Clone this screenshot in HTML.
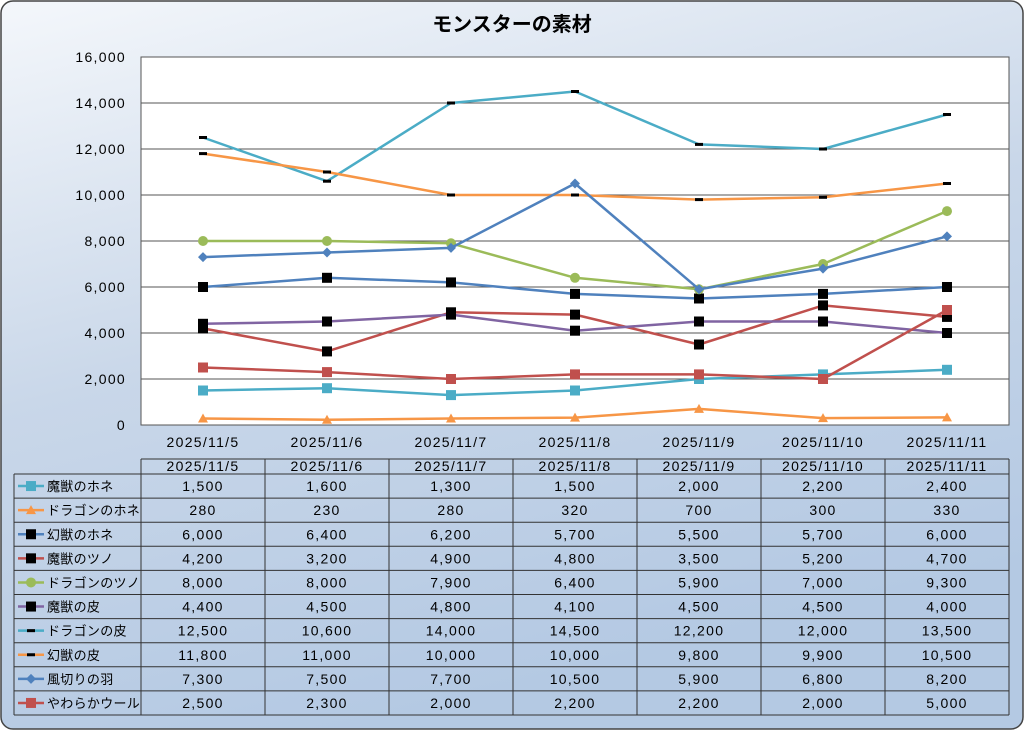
<!DOCTYPE html>
<html><head><meta charset="utf-8">
<style>
html,body{margin:0;padding:0;width:1024px;height:730px;overflow:hidden;background:#fff}
svg{display:block}
text{font-family:"Liberation Sans","Noto Sans CJK JP",sans-serif;fill:#000}
.n{font-size:14px;letter-spacing:1.3px}
</style></head><body>
<svg id="s" width="1024" height="730" xmlns="http://www.w3.org/2000/svg">
<defs>
<linearGradient id="bg" x1="0" y1="0" x2="0.35" y2="1">
<stop offset="0" stop-color="#f4f7fb"/>
<stop offset="0.5" stop-color="#c9d7e9"/>
<stop offset="1" stop-color="#b4c9e3"/>
</linearGradient>
</defs>
<rect x="1" y="1" width="1022" height="728" rx="12" fill="url(#bg)" stroke="#444" stroke-width="1.5"/>
<text x="512" y="31" text-anchor="middle" font-size="20" font-weight="bold">モンスターの素材</text>
<rect x="141" y="57" width="868" height="368" fill="#fff" stroke="#555"/>
<g id="g"></g>
</svg>
<script>
(function(){
const g=document.getElementById('g');
const NS='http://www.w3.org/2000/svg';
function el(t,a,txt){const e=document.createElementNS(NS,t);for(const k in a)e.setAttribute(k,a[k]);if(txt!==undefined)e.textContent=txt;g.appendChild(e);return e;}
function fmt(v){return String(v).replace(/\B(?=(\d{3})+(?!\d))/g,',');}
const Y=v=>425-v*0.023;
const X=i=>203+i*124;
for(let v=0;v<=16000;v+=2000){
 if(v>0&&v<16000) el('line',{x1:141,x2:1009,y1:Y(v),y2:Y(v),stroke:'#555','stroke-width':1});
 el('text',{x:126,y:Y(v)+5,'text-anchor':'end','class':'n'},fmt(v));
}
const dates=['2025/11/5','2025/11/6','2025/11/7','2025/11/8','2025/11/9','2025/11/10','2025/11/11'];
dates.forEach((d,i)=>el('text',{x:X(i),y:447,'text-anchor':'middle','class':'n'},d));
const S=[
['魔獣のホネ','#4bacc6','sq',[1500,1600,1300,1500,2000,2200,2400]],
['ドラゴンのホネ','#f79646','tri',[280,230,280,320,700,300,330]],
['幻獣のホネ','#4f81bd','bsq',[6000,6400,6200,5700,5500,5700,6000]],
['魔獣のツノ','#c0504d','bsq',[4200,3200,4900,4800,3500,5200,4700]],
['ドラゴンのツノ','#9bbb59','cir',[8000,8000,7900,6400,5900,7000,9300]],
['魔獣の皮','#8064a2','bsq',[4400,4500,4800,4100,4500,4500,4000]],
['ドラゴンの皮','#4bacc6','dash',[12500,10600,14000,14500,12200,12000,13500]],
['幻獣の皮','#f79646','dash',[11800,11000,10000,10000,9800,9900,10500]],
['風切りの羽','#4f81bd','dia',[7300,7500,7700,10500,5900,6800,8200]],
['やわらかウール','#c0504d','sq',[2500,2300,2000,2200,2200,2000,5000]]];
function marker(m,c,x,y){
 if(m==='sq') el('rect',{x:x-5,y:y-5,width:10,height:10,fill:c});
 else if(m==='bsq') el('rect',{x:x-5,y:y-5,width:10,height:10,fill:'#000'});
 else if(m==='tri') el('polygon',{points:`${x},${y-5} ${x+5},${y+4} ${x-5},${y+4}`,fill:c});
 else if(m==='cir') el('circle',{cx:x,cy:y,r:5,fill:c});
 else if(m==='dash') el('rect',{x:x-4,y:y-1.5,width:8,height:3,fill:'#000'});
 else if(m==='dia') el('polygon',{points:`${x},${y-5} ${x+5},${y} ${x},${y+5} ${x-5},${y}`,fill:c});
}
S.forEach(s=>{
 el('polyline',{points:s[3].map((v,i)=>X(i)+','+Y(v)).join(' '),fill:'none',stroke:s[1],'stroke-width':2.5,'stroke-linejoin':'round'});
 s[3].forEach((v,i)=>marker(s[2],s[1],X(i),Y(v)));
});
const T0=474,rh=24.1;
el('line',{x1:141,x2:1009,y1:459,y2:459,stroke:'#333'});
for(let i=0;i<=7;i++){const x=141+i*124;el('line',{x1:x,x2:x,y1:459,y2:T0+10*rh,stroke:'#333'});}
el('line',{x1:14,x2:14,y1:T0,y2:T0+10*rh,stroke:'#333'});
for(let r=0;r<=10;r++) el('line',{x1:14,x2:1009,y1:T0+r*rh,y2:T0+r*rh,stroke:'#333'});
dates.forEach((d,i)=>el('text',{x:X(i),y:471,'text-anchor':'middle','class':'n'},d));
S.forEach((s,r)=>{
 const cy=T0+r*rh+rh/2;
 el('line',{x1:18,x2:44,y1:cy,y2:cy,stroke:s[1],'stroke-width':2.5});
 marker(s[2],s[1],31,cy);
 el('text',{x:47,y:cy+5,'font-size':13,'letter-spacing':0.3},s[0]);
 s[3].forEach((v,i)=>el('text',{x:X(i),y:cy+5,'text-anchor':'middle','class':'n'},fmt(v)));
});
})();
</script>
</body></html>
